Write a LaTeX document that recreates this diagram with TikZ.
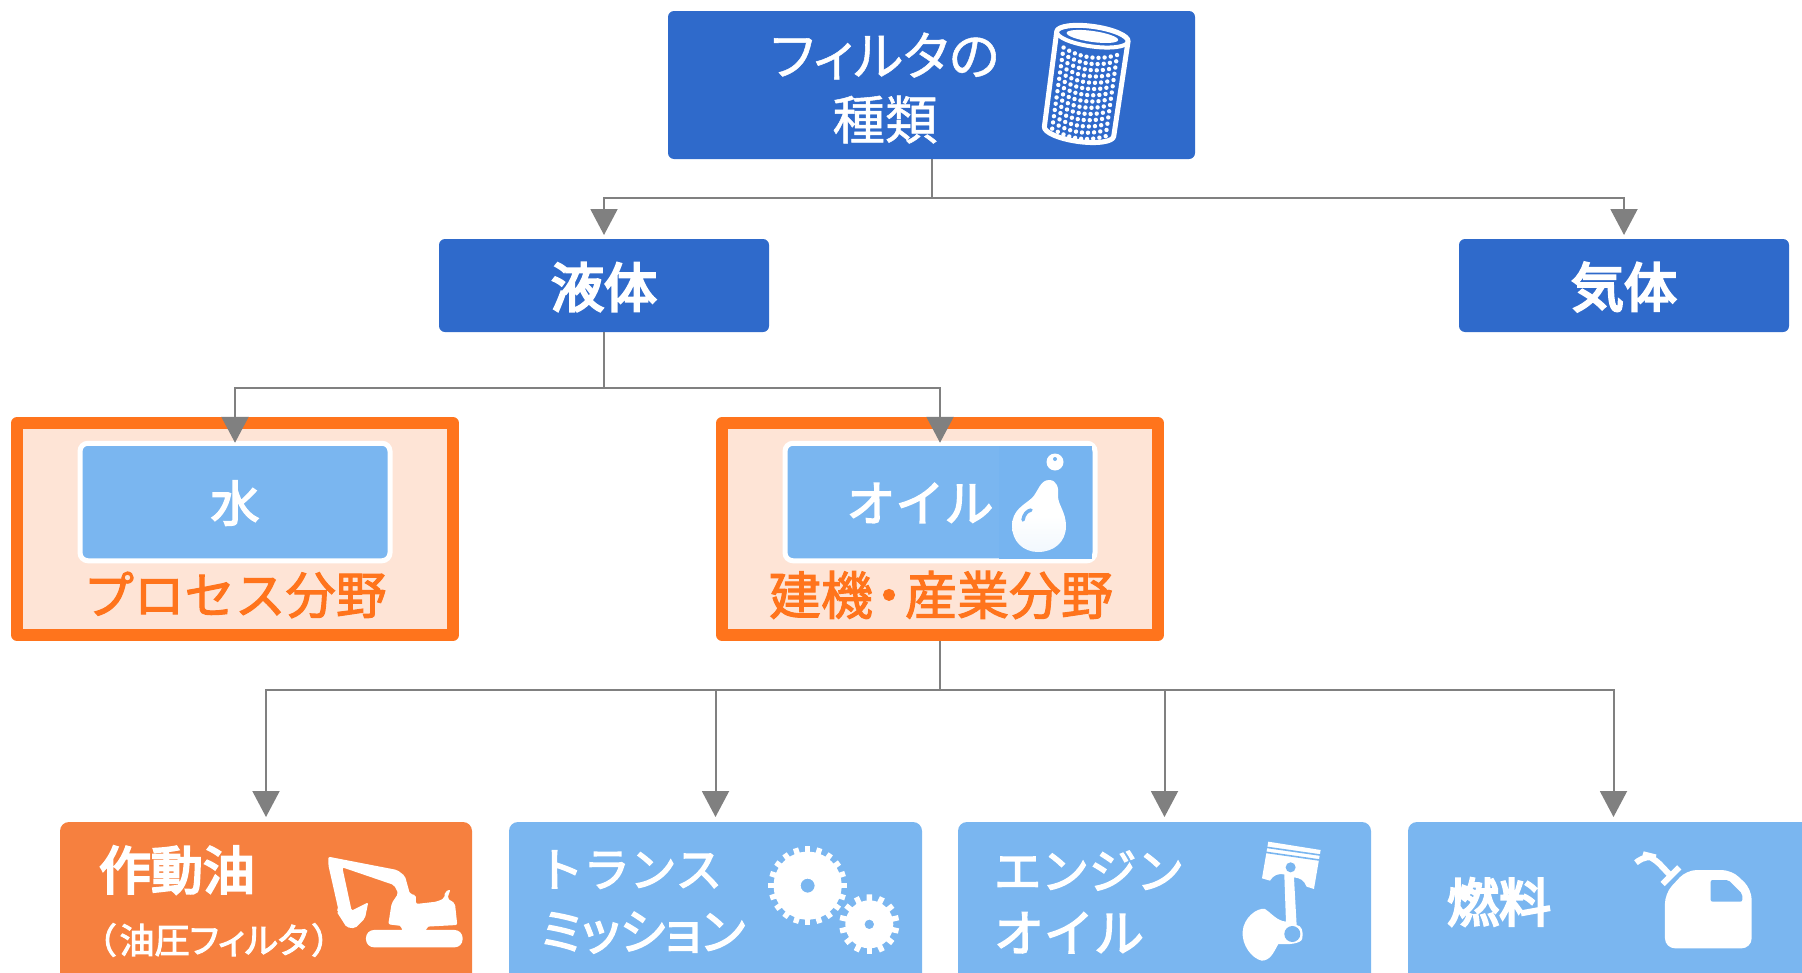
\documentclass[tikz,border=0pt]{standalone}
\usepackage{fontspec}
\usetikzlibrary{arrows.meta,calc}
\newfontfamily\jpr[FakeBold=1,RawFeature=+palt]{Noto Sans CJK JP}
\newfontfamily\jpm[FakeBold=3,RawFeature=+palt]{Noto Sans CJK JP}
\newfontfamily\jpn[FakeBold=3]{Noto Sans CJK JP}
\newfontfamily\jpo[FakeBold=2]{Noto Sans CJK JP}
\newfontfamily\jpb[FakeBold=4.5,RawFeature=+palt]{Noto Sans CJK JP}
\definecolor{dblue}{HTML}{2F6ACB}
\definecolor{lblue}{HTML}{7AB6F0}
\definecolor{pblue}{HTML}{76B4F0}
\definecolor{ofill}{HTML}{F6803F}
\definecolor{oline}{HTML}{FF741C}
\definecolor{opale}{HTML}{FEE4D6}
\definecolor{conn}{HTML}{808080}
\tikzset{
 dbox/.style={draw=none,fill=dblue,rounded corners=6pt,inner sep=0pt,outer sep=0pt},
 lbox/.style={draw=none,fill=lblue,rounded corners=9pt,inner sep=0pt,outer sep=0pt},
 obox/.style={lbox,fill=ofill},
 frame/.style={draw=oline,fill=opale,line width=12pt,line join=round,minimum width=436pt,minimum height=212pt,inner sep=0pt},
 inner/.style={draw=white,fill=lblue,line width=5pt,rounded corners=8pt,minimum width=310pt,minimum height=117.5pt,inner sep=0pt},
 txt/.style={text=white,inner sep=0pt,outer sep=0pt},
 otxt/.style={text=oline,inner sep=0pt,outer sep=0pt},
 link/.style={draw=conn,line width=2pt,-{Triangle[width=27pt,length=26pt]}},
}
\begin{document}
\begin{tikzpicture}[x=1pt,y=-1pt]
\useasboundingbox (0,0) rectangle (1802,972);
\clip (0,0) rectangle (1802,972);
% boxes
\node[dbox,minimum width=527pt,minimum height=148pt] (top) at (931.5,85) {};
\node[dbox,minimum width=330pt,minimum height=93pt] (liquid) at (604,285.5) {};
\node[dbox,minimum width=330pt,minimum height=93pt] (gas) at (1624,285.5) {};
\node[frame] (procf) at (235,529) {};
\node[frame] (oilf) at (940,529) {};
\node[inner] (water) at (235,502) {};
\node[inner] (oil) at (940,502) {};
\fill[pblue] (999,445.5) rectangle (1092,558.5);
\node[obox,minimum width=412pt,minimum height=168pt] (hyd) at (266,906) {};
\node[lbox,minimum width=413pt,minimum height=168pt] (trans) at (715.5,906) {};
\node[lbox,minimum width=413pt,minimum height=168pt] (eng) at (1164.5,906) {};
\node[lbox,minimum width=411pt,minimum height=168pt] (fuel) at (1613.5,906) {};
% labels
\node[txt,align=center,font=\fontsize{52.5}{64}\selectfont\jpr] (ttop) at (885,88) {フィルタの\\種類};
\node[txt,font=\fontsize{53}{60}\selectfont\jpb] (tliq) at (604,287) {液体};
\node[txt,font=\fontsize{53}{60}\selectfont\jpb] (tgas) at (1624,287) {気体};
\node[txt,font=\fontsize{49}{60}\selectfont\jpn] (twat) at (235,503) {水};
\node[txt,font=\fontsize{49}{60}\selectfont\jpn] (toil) at (920,503) {オイル};
\node[otxt,font=\fontsize{50.5}{60}\selectfont\jpo] (tpro) at (235,595) {プロセス分野};
\node[otxt,font=\fontsize{52}{60}\selectfont\jpo] (tcon) at (941,595) {建機\hspace{-10pt}・\hspace{-10pt}産業分野};
\node[txt,font=\fontsize{52}{60}\selectfont\jpb] (thyd) at (177,870) {作動油};
\node[txt,font=\fontsize{35}{40}\selectfont\jpm] (thyd2) at (214,940) {（\hspace{4pt}油圧フィルタ\hspace{4pt}）};
\node[txt,anchor=west,align=left,font=\fontsize{46.5}{63}\selectfont\jpn] (ttra) at (537,902) {トランス\\\hspace{4pt}{\jpm\fontsize{49}{63}\selectfont ミッション}};
\node[txt,anchor=west,align=left,font=\fontsize{47.5}{63}\selectfont\jpn] (teng) at (994,902) {エンジン\\{\fontsize{50}{63}\selectfont オイル}};
\node[txt,font=\fontsize{52}{60}\selectfont\jpb] (tfue) at (1499,902) {燃料};
% connectors
\coordinate (b1) at (931.5,198);
\coordinate (b2) at (604,388);
\coordinate (b3) at (940,690);
\draw[link,shorten >=4pt] (top.south) -- (b1) -| (liquid.north);
\draw[link,shorten >=4pt] (top.south) -- (b1) -| (gas.north);
\draw[link,shorten >=-2pt] (liquid.south) -- (b2) -| (water.north);
\draw[link,shorten >=-2pt] (liquid.south) -- (b2) -| (oil.north);
\draw[link,shorten >=5pt] (oilf.south) -- (b3) -| (hyd.north);
\draw[link,shorten >=5pt] (oilf.south) -- (b3) -| (trans.north);
\draw[link,shorten >=5pt] (oilf.south) -- (b3) -| (eng.north);
\draw[link,shorten >=5pt] (oilf.south) -- (b3) -| (fuel.north);
% filter icon
\begin{scope}[shift={(1086,82)},rotate=-8]
 \draw[white,line width=5pt,line join=round,fill=dblue] (-36,-46) -- (-35,50) arc[start angle=180,end angle=0,x radius=35,y radius=10] -- (36,-46) arc[start angle=0,end angle=-180,x radius=36,y radius=10] -- cycle;
 \draw[white,line width=4pt] (-36,-46) arc[start angle=180,end angle=0,x radius=36,y radius=10];
 \fill[white] (0,-46) ellipse[x radius=26,y radius=5.5];
 \foreach \i in {0,...,9}{\foreach \j in {0,...,13}{
  \fill[white] ({-27+\i*6},{-31+\j*6.3+6*(1-((\i-4.5)/4.5)^2)}) circle[radius=2.2pt];
 }}
\end{scope}
% drop icon
\fill[white] (1055,462) circle[radius=8.5pt];
\fill[pblue] (1055,459) circle[radius=2pt];
\shade[top color=white,bottom color=white!90!lblue,middle color=white] (1049,480) .. controls (1057,480) and (1059,488) .. (1058,496) .. controls (1058,505) and (1066,512) .. (1066,526) .. controls (1066,542) and (1054,552) .. (1038,552) .. controls (1023,552) and (1012,541) .. (1012,526) .. controls (1012,510) and (1024,505) .. (1032,498) .. controls (1038,492) and (1040,480) .. (1049,480) -- cycle;
\draw[pblue,line width=3.5pt,line cap=round] (1023,520) .. controls (1024,514) and (1027,511) .. (1031,510);
% excavator
\begin{scope}[shift={(40,790)},x=0.3333pt,y=-0.3333pt]
 \fill[white,rounded corners=2pt] (865,200) -- (1072,240) -- (1095,258) -- (1110,312) -- (1128,315) -- (1128,342) -- (1190,335) -- (1213,325) -- (1215,305) -- (1232,298) -- (1222,325) -- (1245,340) -- (1252,405) -- (1160,410) -- (1160,422) -- (1085,422) -- (1085,408) -- (1045,403) -- (1055,340) -- (1075,310) -- (1062,285) -- (907,232) -- (935,362) -- (985,337) -- (975,385) -- (945,415) -- (920,412) -- (890,365) -- (895,358) -- (865,225) -- cycle;
 \fill[white,rounded corners=8pt] (978,420) rectangle (1268,472);
\end{scope}
% gears
\begin{scope}[shift={(500,790)},x=0.3333pt,y=-0.3333pt]
 \fill[white,even odd rule] (923,287) circle[radius=34pt] (923,287) circle[radius=7pt];
 \foreach \a in {0,18,...,342}{\fill[white,shift={(923,287)},rotate=\a] (-8,90) rectangle (8,118);}
 \fill[white,even odd rule] (1108,403) circle[radius=24pt] (1108,403) circle[radius=4.8pt];
 \foreach \a in {0,25.7,...,340}{\fill[white,shift={(1108,403)},rotate=\a] (-8,65) rectangle (8,90);}
\end{scope}
% piston
\begin{scope}[shift={(950,790)},x=0.3333pt,y=-0.3333pt]
 \fill[white] (955,155) -- (1112,180) -- (1092,297) -- (1070,290) .. controls (1062,270) and (1050,264) .. (1032,262) -- (1040,405) .. controls (1055,408) and (1060,420) .. (1057,445) .. controls (1055,460) and (1020,465) .. (985,462) .. controls (970,490) and (960,512) .. (935,512) .. controls (905,505) and (875,465) .. (878,425) .. controls (880,385) and (920,352) .. (945,357) .. controls (965,370) and (980,392) .. (1008,395) -- (1003,253) .. controls (985,250) and (970,255) .. (960,272) -- (936,265) -- cycle;
 \draw[lblue,line width=1.6pt] (950,172) -- (1110,195) (948,187) -- (1108,210);
 \fill[lblue] (1022,232) circle[radius=5pt] (1027,432) circle[radius=8pt];
\end{scope}
% can
\begin{scope}[shift={(1400,790)},x=0.3333pt,y=-0.3333pt]
 \fill[white,rounded corners=10pt] (795,310) -- (860,240) -- (995,240) -- (1055,298) -- (1055,475) -- (795,475) -- cycle;
 \fill[lblue,rounded corners=2pt] (932,270) -- (985,270) -- (1027,312) -- (1027,335) -- (932,335) -- cycle;
 \draw[white,line width=6pt] (788,282) -- (838,232);
 \draw[white,line width=6pt,rounded corners=10pt] (810,255) -- (758,200) -- (738,195) -- (708,218);
\end{scope}
\end{tikzpicture}
\end{document}
